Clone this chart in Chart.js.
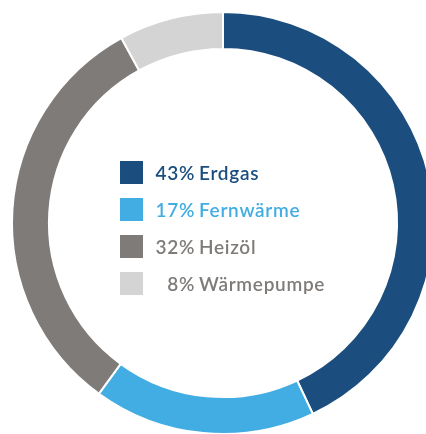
<!DOCTYPE html>
<html>
<head>
<meta charset="utf-8">
<script src="https://cdn.jsdelivr.net/npm/chart.js@4"></script>
<style>
  html, body { margin: 0; padding: 0; background: #fff; overflow: hidden; width: 426px; height: 434px; }
  #wrap { position: relative; width: 426px; height: 434px; overflow: hidden; }
  #energyChart { position: absolute; left: 0; top: 0; }
  #legend { position: absolute; left: 120px; top: 161px; font-family: Lato, "Open Sans", sans-serif; font-size: 19px; font-weight: 600; letter-spacing: 0.7px; }
  .row { display: flex; align-items: center; height: 23px; margin-bottom: 14px; }
  .box { width: 23px; height: 23px; margin-right: 10px; }
  .pct { width: 42px; text-align: right; margin-right: 4px; white-space: nowrap; }
</style>
</head>
<body>
<div id="wrap">
  <canvas id="energyChart" width="446" height="446"></canvas>
  <div id="legend"></div>
</div>
<script>
// Energieträger
const categories = ['Erdgas', 'Fernwärme', 'Heizöl', 'Wärmepumpe'];
const shares = [43, 17, 32, 8];

const fillColors = ['#1b4e7e', '#42ade2', '#7f7b78', '#d4d4d4'];
const textColors = ['#1b4e7e', '#42ade2', '#7f7b78', '#7f7b78'];

const ctx = document.getElementById('energyChart');

new Chart(ctx, {
  type: 'doughnut',
  data: {
    labels: categories,
    datasets: [{
      data: shares,
      backgroundColor: fillColors,
      borderColor: '#fff',
      borderWidth: 2,
      hoverOffset: 0
    }]
  },
  options: {
    responsive: false,
    animation: false,
    cutout: '82.5%',
    rotation: 0,
    layout: { padding: 11 },
    plugins: {
      legend: { display: false },
      tooltip: { enabled: false }
    }
  }
});

// legend in the middle of the ring
const legend = document.getElementById('legend');
categories.forEach((name, i) => {
  const row = document.createElement('div');
  row.className = 'row';
  row.style.color = textColors[i];
  row.innerHTML = '<div class="box" style="background:' + fillColors[i] + '"></div>' +
    '<span class="pct">' + shares[i] + '%</span><span>' + name + '</span>';
  legend.appendChild(row);
});
</script>
</body>
</html>
